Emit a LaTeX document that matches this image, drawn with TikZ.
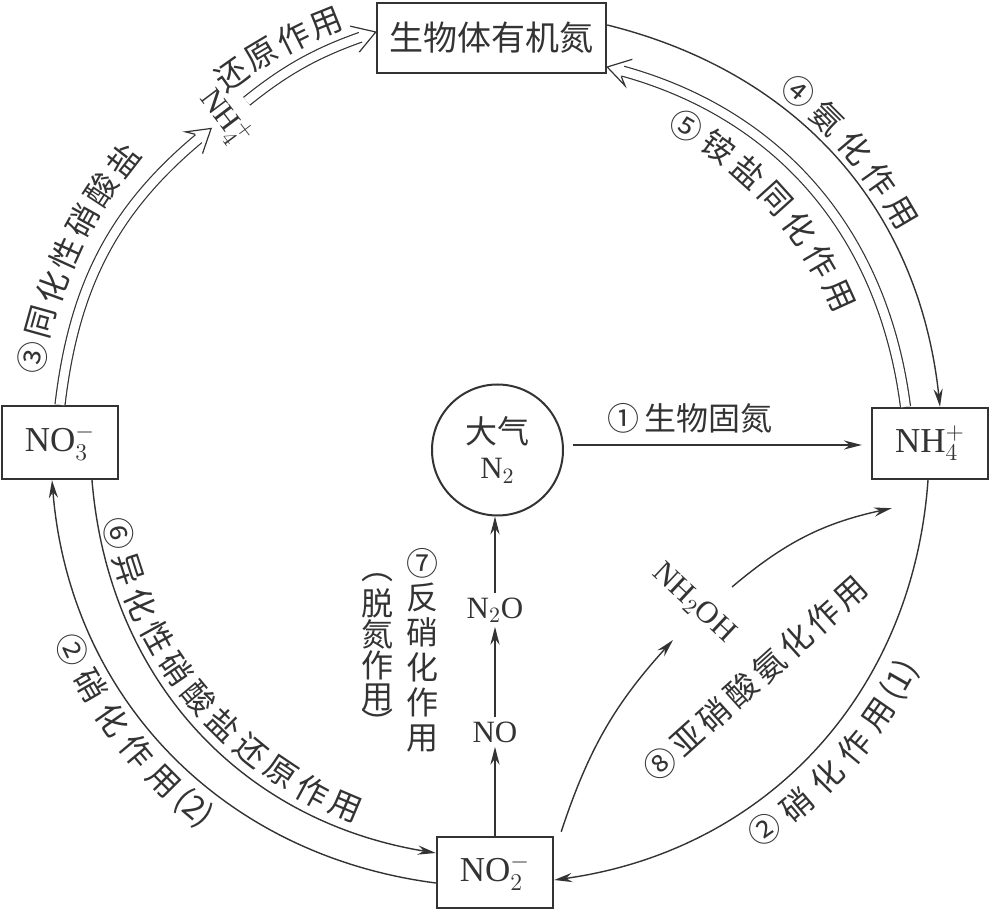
\documentclass[tikz,border=0pt]{standalone}
\usepackage{fontspec}
\setmainfont{Liberation Serif}
\newfontfamily\cjk{Noto Sans CJK SC}
\newfontfamily\cjkwide[LetterSpace=14]{Noto Sans CJK SC}
\usepackage{tikz}
\usetikzlibrary{arrows.meta,calc,decorations.markings}
\definecolor{ink}{HTML}{333333}
% open head for the doubled arrows, drawn at the path's end
\newcommand{\hollowtip}{%
  \fill[white] (-8pt,2.9pt) -- (-11pt,6.8pt) -- (0pt,0pt) -- (-11pt,-6.8pt) -- (-8pt,-2.9pt) -- cycle;
  \draw[ink,line width=0.6pt,line join=miter] (-8pt,2.8pt) -- (-11pt,6.8pt) -- (0pt,0pt) -- (-11pt,-6.8pt) -- (-8pt,-2.8pt);}
\tikzset{
  box/.style={draw=ink,line width=1.2pt,minimum width=58pt,minimum height=35.5pt,inner sep=0pt,
    text=ink,font=\fontsize{17.5}{20}\selectfont},
  arr/.style={draw=ink,line width=0.7pt,-{Stealth[length=9pt,width=4.6pt,inset=3pt]}},
  dbl/.style={draw=ink,line width=0.6pt,double=white,double distance=4.4pt,shorten >=5pt,
    postaction={decorate,decoration={markings,mark=at position 1 with {\hollowtip}}}},
  zh/.style={font=\cjk\fontsize{16}{17.4}\selectfont,text=ink,inner sep=0pt},
  chem/.style={font=\fontsize{15.5}{18}\selectfont,text=ink,inner sep=2pt}}
% glyphs set one by one along a circle round (cc)
\newcommand{\arclab}[6]{%
  \foreach \ch [count=\i from 0] in {#6}{
    \pgfmathsetmacro\tht{#2+#3*\i}
    \node[zh,rotate={\tht#5}] (#1-\i) at ([shift={(\tht:#4)}]cc) {\ch};
  }}

\begin{document}
\begin{tikzpicture}[x=0.5pt,y=0.5pt]
\useasboundingbox (0,0) rectangle (992,912);
\coordinate (cc) at (497.5,462);
% pools
\node[box,minimum width=114.5pt,minimum height=35pt,font=\cjk\fontsize{17}{20}\selectfont] (org) at (491.5,874) {生物体有机氮};
\node[box,minimum height=36.5pt] (no3) at (60,469.5) {NO$_3^-$};
\node[box] (nh4) at (930,468.5) {NH$_4^+$};
\node[box] (no2) at (495,39.5) {NO$_2^-$};
\node[circle,draw=ink,line width=1pt,minimum size=65.5pt,inner sep=0pt,align=center,text=ink,
  font=\fontsize{15.5}{17.5}\selectfont] (atm) at (497.5,462) {{\cjk\fontsize{16}{17.5}\selectfont 大气}\\N$_2$};
\node[chem] (no) at (495,180) {NO};
\node[chem] (n2o) at (495,302) {N$_2$O};
\node[chem,rotate=-43] (nh2oh) at (694,309) {NH$_2$OH};
\node[chem,rotate=-53,inner sep=0.5pt] (nh4s) at (225,794) {NH$_4^+$};
% straight labels
\node[zh] (lab1) at (690,494) {①\,生物固氮};
\node[zh,font=\cjkwide\fontsize{16}{17.4}\selectfont,rotate=42] (lab8) at (755,234) {⑧\,亚硝酸氨化作用};
\node[zh,align=center] (lab7) at (422,262) {⑦\\反\\硝\\化\\作\\用};
\node[zh,align=center,font=\cjk\fontsize{16}{15.5}\selectfont] (lab7b) at (377,262) {脱\\氮\\作\\用};
\node[zh] (lab7t) at (377,334) {︵};
\node[zh] (lab7u) at (377,190) {︶};
% curved labels
\arclab{l3}{168.8}{-4.43}{474}{-90}{③,同,化,性,硝,酸,盐}
\arclab{l3b}{125.3}{-4.47}{460}{-90}{还,原,作,用}
\arclab{l4}{50}{-4.9}{468}{-90}{④,氨,化,作,用}
\arclab{l5}{59.8}{-5.9}{375}{-90}{⑤,铵,盐,同,化,作,用}
\arclab{l2b}{205.1}{4.92}{470}{+90}{②,硝,化,作,用,(2)}
\arclab{l6}{192.5}{5.45}{388}{+90}{⑥,异,化,性,硝,酸,盐,还,原,作,用}
\arclab{l2a}{305.2}{5.0}{464}{+90}{②,硝,化,作,用,(1)}
% fixation and denitrification
\draw[arr] ($(atm.east)+(4.5pt,2.5pt)$) -- ($(atm.east -| nh4.west)+(-4.5pt,2.5pt)$);
\draw[arr] (no2) -- (no);
\draw[arr] (no) -- (n2o);
\draw[arr] (n2o) -- (n2o |- atm.south);
% outer cycle
\draw[arr] ([xshift=-1pt]nh4.south) to[bend left=39] ([yshift=-3.75pt]no2.east);
\draw[arr] ([yshift=-5.25pt]no2.west) to[bend left=39] ([xshift=-4pt]no3.south);
\draw[arr] ([xshift=16pt]no3.south) to[bend right=38] ([yshift=9.75pt]no2.west);
\draw[arr] ([yshift=6.5pt]org.east) to[bend left=35] ([xshift=5pt]nh4.north);
\draw[dbl] ([xshift=-12.25pt]nh4.north) to[bend right=34] ([yshift=-14.5pt]org.east);
\draw[dbl] (no3.north) to[bend left=22] (nh4s.south);
\draw[dbl,shorten <=5pt] (nh4s.north) to[bend left=10] ([yshift=3pt]org.west);
% via NH2OH
\draw[arr] ([shift={(3.5pt,2pt)}]no2.north east) to[bend left=12] ([shift={(-10.5pt,-18.5pt)}]nh2oh.center);
\draw[arr] ([shift={(19pt,8pt)}]nh2oh.center) to[bend left=14] ([shift={(10.5pt,-14pt)}]nh4.south west);
\end{tikzpicture}
\end{document}
